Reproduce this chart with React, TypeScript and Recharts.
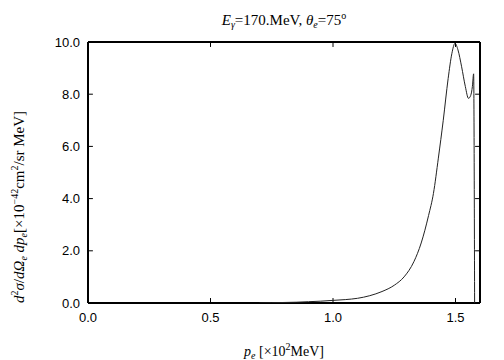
import { LineChart, Line, XAxis, YAxis, ReferenceLine } from 'recharts';

// p_e in units of 10^2 MeV, cross section in 10^-42 cm^2/sr MeV
const pValues = [
  0.7, 0.75, 0.8, 0.85, 0.9, 0.95, 1.0, 1.05, 1.1, 1.15, 1.2, 1.25, 1.29, 1.33, 1.36, 1.39,
  1.41, 1.43, 1.45, 1.47, 1.485, 1.498, 1.51, 1.525, 1.54, 1.553, 1.562, 1.569, 1.574, 1.578,
];
const sigmaValues = [
  0.0, 0.01, 0.02, 0.03, 0.05, 0.07, 0.1, 0.13, 0.18, 0.28, 0.44, 0.68, 1.0, 1.58, 2.3, 3.35,
  4.2, 5.55, 7.0, 8.6, 9.55, 9.95, 9.7, 9.05, 8.3, 7.84, 7.95, 8.3, 8.78, 0.0,
];
const xTicks = [0, 0.5, 1.0, 1.5];
const yTicks = [0, 2, 4, 6, 8, 10];

const data = pValues.map((p, i) => ({ p, sigma: sigmaValues[i] }));

// inward tick lengths in data units (about 5px)
const xTickLen = 0.02;
const yTickLen = 0.19;

const tickFont = { fontFamily: 'Liberation Sans, Arial, sans-serif', fontSize: 13, fill: '#000' };
const serif = 'Liberation Serif, Times New Roman, serif';

export default function App() {
  return (
    <div style={{ position: 'absolute', left: 0, top: 0, width: 504, height: 360, background: '#fff' }}>
      <LineChart
        width={504}
        height={360}
        data={data}
        margin={{ top: 42, right: 24, bottom: 27, left: 0 }}
      >
        <XAxis
          dataKey="p"
          type="number"
          domain={[0, 1.6]}
          ticks={xTicks}
          tickFormatter={(v: number) => v.toFixed(1)}
          height={30}
          tickMargin={4}
          tick={tickFont}
          tickLine={false}
          axisLine={false}
          allowDataOverflow
        />
        <YAxis
          type="number"
          domain={[0, 10]}
          ticks={yTicks}
          tickFormatter={(v: number) => v.toFixed(1)}
          width={88}
          tickMargin={2}
          tick={tickFont}
          tickLine={false}
          axisLine={false}
          allowDataOverflow
        />
        {/* frame */}
        <ReferenceLine x={0} stroke="#000" strokeWidth={2} />
        <ReferenceLine x={1.6} stroke="#000" strokeWidth={2} />
        <ReferenceLine y={0} stroke="#000" strokeWidth={2} />
        <ReferenceLine y={10} stroke="#000" strokeWidth={2} />
        {/* inward ticks */}
        {xTicks.map((t) => (
          <ReferenceLine
            key={'b' + t}
            segment={[
              { x: t, y: 0 },
              { x: t, y: yTickLen },
            ]}
            stroke="#000"
          />
        ))}
        {xTicks.map((t) => (
          <ReferenceLine
            key={'t' + t}
            segment={[
              { x: t, y: 10 - yTickLen },
              { x: t, y: 10 },
            ]}
            stroke="#000"
          />
        ))}
        {yTicks.map((t) => (
          <ReferenceLine
            key={'l' + t}
            segment={[
              { x: 0, y: t },
              { x: xTickLen, y: t },
            ]}
            stroke="#000"
          />
        ))}
        {yTicks.map((t) => (
          <ReferenceLine
            key={'r' + t}
            segment={[
              { x: 1.6 - xTickLen, y: t },
              { x: 1.6, y: t },
            ]}
            stroke="#000"
          />
        ))}
        <Line
          type="monotone"
          dataKey="sigma"
          stroke="#222"
          strokeWidth={1}
          dot={false}
          isAnimationActive={false}
        />

        <text x={284} y={25} textAnchor="middle" fontFamily={serif} fontSize={15} fill="#000">
          <tspan fontStyle="italic">E</tspan>
          <tspan fontStyle="italic" fontSize={10} dy={3}>γ</tspan>
          <tspan dy={-3}>=170.MeV,  </tspan>
          <tspan fontStyle="italic">θ</tspan>
          <tspan fontStyle="italic" fontSize={10} dy={3}>e</tspan>
          <tspan dy={-3}>=75</tspan>
          <tspan fontSize={10} dy={-6}>o</tspan>
        </text>

        <text x={284} y={356} textAnchor="middle" fontFamily={serif} fontSize={14} fill="#000">
          <tspan fontStyle="italic">p</tspan>
          <tspan fontStyle="italic" fontSize={10} dy={3}>e</tspan>
          <tspan dy={-3}> [×10</tspan>
          <tspan fontSize={10} dy={-6}>2</tspan>
          <tspan dy={6}>MeV]</tspan>
        </text>

        <text
          x={0}
          y={0}
          transform="translate(24,207) rotate(-90)"
          textAnchor="middle"
          fontFamily={serif}
          fontSize={15}
          fill="#000"
        >
          <tspan fontStyle="italic">d</tspan>
          <tspan fontSize={10} dy={-6}>2</tspan>
          <tspan fontStyle="italic" dy={6}>σ</tspan>
          <tspan>/</tspan>
          <tspan fontStyle="italic">dΩ</tspan>
          <tspan fontStyle="italic" fontSize={10} dy={3}>e</tspan>
          <tspan fontStyle="italic" dy={-3}> dp</tspan>
          <tspan fontStyle="italic" fontSize={10} dy={3}>e</tspan>
          <tspan dy={-3}>[×10</tspan>
          <tspan fontSize={10} dy={-6}>−42</tspan>
          <tspan dy={6}>cm</tspan>
          <tspan fontSize={10} dy={-6}>2</tspan>
          <tspan dy={6}>/sr MeV]</tspan>
        </text>
      </LineChart>
    </div>
  );
}
